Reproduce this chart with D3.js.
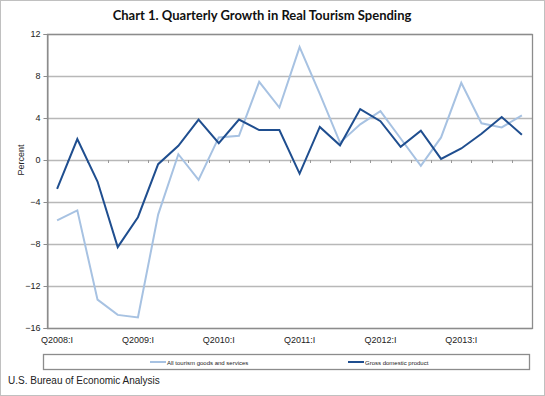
<!DOCTYPE html>
<html><head><meta charset="utf-8">
<script src="https://cdn.jsdelivr.net/npm/d3@7"></script>
<style>body{margin:0;background:#fff}svg{display:block}</style>
</head><body>
<svg id="c" width="545" height="396"></svg>
<script>
const quarters = ["Q2008:I","Q2008:II","Q2008:III","Q2008:IV","Q2009:I","Q2009:II","Q2009:III","Q2009:IV",
 "Q2010:I","Q2010:II","Q2010:III","Q2010:IV","Q2011:I","Q2011:II","Q2011:III","Q2011:IV",
 "Q2012:I","Q2012:II","Q2012:III","Q2012:IV","Q2013:I","Q2013:II","Q2013:III","Q2013:IV"];
const tourism = [-5.75,-4.8,-13.3,-14.75,-15.0,-5.2,0.55,-1.9,2.15,2.3,7.45,5.0,10.75,6.3,1.65,3.4,4.65,2.05,-0.55,2.15,7.35,3.5,3.1,4.25];
const gdp = [-2.75,2.0,-2.05,-8.3,-5.45,-0.4,1.35,3.85,1.6,3.85,2.85,2.85,-1.3,3.15,1.4,4.85,3.7,1.25,2.8,0.1,1.1,2.5,4.1,2.4];
const yTicks = [12,8,4,0,-4,-8,-12,-16];
const labelQuarters = ["Q2008:I","Q2009:I","Q2010:I","Q2011:I","Q2012:I","Q2013:I"];
const seriesNames = ["All tourism goods and services","Gross domestic product"];
const colors = ["#a7c2e2","#1f4e8f"];

const svg = d3.select("#c");
const L=47, R=532, T=34, B=328;
svg.append("rect").attr("x",0.5).attr("y",0.5).attr("width",544).attr("height",395).attr("fill","#fff").attr("stroke","#c0c0c0");

const x = d3.scaleBand().domain(quarters).range([L,R]);
const y = d3.scaleLinear().domain([-16,12]).range([B,T]);

// gridlines
svg.append("g").selectAll("line").data(yTicks).join("line")
  .attr("x1",L).attr("x2",R).attr("y1",d=>Math.round(y(d))+0.5).attr("y2",d=>Math.round(y(d))+0.5)
  .attr("stroke","#b8b8b8").attr("stroke-width",1.3);

// plot border
svg.append("rect").attr("x",L+0.5).attr("y",T+0.5).attr("width",R-L).attr("height",B-T)
  .attr("fill","none").attr("stroke","#8c8c8c").attr("stroke-width",1.3);

// y axis
const ya = svg.append("g").attr("transform",`translate(${L+0.5},0)`)
  .call(d3.axisLeft(y).tickValues(yTicks).tickSize(4).tickPadding(3).tickFormat(d3.format("d")));
ya.select(".domain").attr("stroke","#8c8c8c");
ya.selectAll(".tick line").attr("stroke","#8c8c8c");
ya.selectAll("text").attr("font-family","Liberation Sans, Arial").attr("font-size",9).attr("fill","#222");

// zero-line category ticks
const bounds = quarters.slice(1).map(q=>x(q));
svg.append("g").selectAll("line").data(bounds).join("line")
  .attr("x1",d=>Math.round(d)+0.5).attr("x2",d=>Math.round(d)+0.5)
  .attr("y1",y(0)).attr("y2",y(0)+3).attr("stroke","#999");

// x labels
const xa = svg.append("g").attr("transform",`translate(0,${B})`)
  .call(d3.axisBottom(x).tickValues(labelQuarters).tickSize(0).tickPadding(9));
xa.select(".domain").remove();
xa.selectAll("text").attr("font-family","Liberation Sans, Arial").attr("font-size",9).attr("fill","#222");

// y title
svg.append("text").attr("transform",`translate(24,${y(0)}) rotate(-90)`).attr("text-anchor","middle")
  .attr("font-family","Liberation Sans, Arial").attr("font-size",9).attr("fill","#222").text("Percent");

// lines
const line = d3.line().x((d,i)=>x(quarters[i])+x.bandwidth()/2).y(d=>y(d));
[tourism,gdp].forEach((s,k)=>{
  svg.append("path").datum(s).attr("d",line).attr("fill","none")
    .attr("stroke",colors[k]).attr("stroke-width",2).attr("stroke-linejoin","miter");
});

// title
svg.append("text").attr("x",262).attr("y",20).attr("text-anchor","middle")
  .attr("font-family","Lato, Open Sans, sans-serif").attr("font-weight","bold").attr("font-size",13).attr("fill","#111")
  .text("Chart 1. Quarterly Growth in Real Tourism Spending");

// legend
svg.append("rect").attr("x",43.5).attr("y",354.5).attr("width",486).attr("height",15)
  .attr("fill","#fff").attr("stroke","#8c8c8c").attr("stroke-width",1.3);
const legX = [150,348];
seriesNames.forEach((n,k)=>{
  svg.append("line").attr("x1",legX[k]).attr("x2",legX[k]+16).attr("y1",362).attr("y2",362)
    .attr("stroke",colors[k]).attr("stroke-width",2);
  svg.append("text").attr("x",legX[k]+17).attr("y",364.5).attr("font-family","Liberation Sans, Arial")
    .attr("font-size",6).attr("fill","#222").text(n);
});

// source
svg.append("text").attr("x",8).attr("y",384).attr("font-family","Liberation Sans, Arial")
  .attr("font-size",10).attr("fill","#222").text("U.S. Bureau of Economic Analysis");
</script>
</body></html>
